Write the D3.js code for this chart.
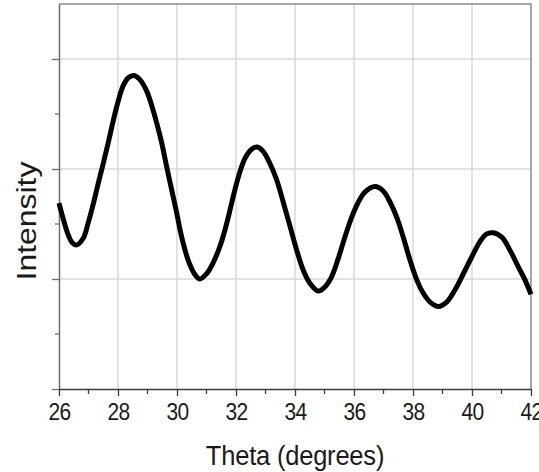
<!DOCTYPE html>
<html>
<head>
<meta charset="utf-8">
<script src="https://cdn.jsdelivr.net/npm/d3@7"></script>
<style>
	body { margin: 0; background: #fff; }
	svg { display: block; font-family: "Liberation Sans", Arial, sans-serif; }
</style>
</head>
<body>
<div id="chart"></div>
<script>
// values
const thetaDeg = [26.00, 26.15, 26.30, 26.45, 26.60, 26.82, 26.99, 27.16, 27.33, 27.50, 27.67, 27.84, 28.01, 28.18, 28.35, 28.54, 28.75, 28.97, 29.14, 29.31, 29.48, 29.65, 29.82, 29.99, 30.16, 30.38, 30.61, 30.78, 31.01, 31.23, 31.46, 31.63, 31.80, 31.97, 32.14, 32.31, 32.53, 32.72, 32.92, 33.15, 33.38, 33.60, 33.83, 34.06, 34.28, 34.51, 34.79, 35.02, 35.24, 35.47, 35.69, 35.92, 36.15, 36.37, 36.71, 36.99, 37.22, 37.45, 37.67, 37.90, 38.13, 38.35, 38.58, 38.86, 39.14, 39.42, 39.71, 39.99, 40.27, 40.50, 40.72, 41.01, 41.29, 41.57, 41.80, 42.00];
const intensity = [1.69, 1.54, 1.41, 1.33, 1.31, 1.37, 1.51, 1.68, 1.87, 2.05, 2.24, 2.44, 2.62, 2.76, 2.83, 2.85, 2.81, 2.71, 2.58, 2.42, 2.24, 2.02, 1.81, 1.60, 1.38, 1.17, 1.04, 1.00, 1.05, 1.15, 1.30, 1.45, 1.63, 1.82, 1.98, 2.10, 2.18, 2.20, 2.16, 2.05, 1.90, 1.70, 1.48, 1.26, 1.08, 0.96, 0.89, 0.93, 1.02, 1.19, 1.38, 1.56, 1.70, 1.79, 1.84, 1.80, 1.70, 1.56, 1.38, 1.17, 0.99, 0.87, 0.79, 0.75, 0.79, 0.90, 1.05, 1.20, 1.34, 1.41, 1.42, 1.38, 1.26, 1.11, 0.99, 0.86];
const xTicks = [26, 28, 30, 32, 34, 36, 38, 40, 42];
const xMinorTicks = [27, 29, 31, 33, 35, 37, 39, 41];
const yTicks = [0, 1, 2, 3];
const yMinorTicks = [0.5, 1.5, 2.5];
const xLabel = "Theta (degrees)";
const yLabel = "Intensity";

const w = 539;
const h = 472;
const margin = { top: 4, right: 8, bottom: 83, left: 59 };

const data = thetaDeg.map((t, i) => [t, intensity[i]]);

const xScale = d3.scaleLinear()
	.domain([26, 42])
	.range([margin.left, w - margin.right]);
const yScale = d3.scaleLinear()
	.domain([0, 3.5])
	.range([h - margin.bottom, margin.top]);

const svg = d3.select("#chart")
	.append("svg")
	.attr("width", w)
	.attr("height", h);

// grid
svg.append("g")
	.selectAll("line")
	.data(xTicks.slice(1, -1))
	.enter()
	.append("line")
	.attr("x1", d => xScale(d))
	.attr("x2", d => xScale(d))
	.attr("y1", yScale(0))
	.attr("y2", yScale(3.5))
	.attr("stroke", "#d9d9d9")
	.attr("stroke-width", 1.5);

svg.append("g")
	.selectAll("line")
	.data(yTicks.slice(1))
	.enter()
	.append("line")
	.attr("x1", xScale(26))
	.attr("x2", xScale(42))
	.attr("y1", d => yScale(d))
	.attr("y2", d => yScale(d))
	.attr("stroke", "#d9d9d9")
	.attr("stroke-width", 1.5);

// top and right frame
svg.append("path")
	.attr("d", "M" + xScale(26) + "," + yScale(3.5) + "H" + xScale(42) + "V" + yScale(0))
	.attr("fill", "none")
	.attr("stroke", "#8a8a8a")
	.attr("stroke-width", 1.5);

// left axis
const yAxis = d3.axisLeft(yScale).tickValues(yTicks).tickSize(7).tickFormat("").tickSizeOuter(0);
const gy = svg.append("g")
	.attr("transform", "translate(" + margin.left + ",0)")
	.call(yAxis);
gy.select(".domain").attr("stroke", "#6e6e6e").attr("stroke-width", 1.5);
gy.selectAll(".tick line").attr("stroke", "#6e6e6e").attr("stroke-width", 1.3);

gy.selectAll(".minor")
	.data(yMinorTicks)
	.enter()
	.append("line")
	.attr("class", "minor")
	.attr("x1", -4)
	.attr("x2", 0)
	.attr("y1", d => yScale(d))
	.attr("y2", d => yScale(d))
	.attr("stroke", "#6e6e6e")
	.attr("stroke-width", 1.3);

// bottom axis
const xAxis = d3.axisBottom(xScale).tickValues(xTicks).tickSize(7).tickSizeOuter(0);
const gx = svg.append("g")
	.attr("transform", "translate(0," + yScale(0) + ")")
	.call(xAxis);
gx.select(".domain").attr("stroke", "#3c3c3c").attr("stroke-width", 1.5);
gx.selectAll(".tick line").attr("stroke", "#3c3c3c").attr("stroke-width", 1.3);
gx.selectAll(".tick text")
	.attr("fill", "#1a1a1a")
	.attr("font-size", 21)
	.attr("letter-spacing", -0.6)
	.attr("dy", 0)
	.attr("y", 27.7)
	.attr("transform", "scale(1,1.12)");

gx.selectAll(".minor")
	.data(xMinorTicks)
	.enter()
	.append("line")
	.attr("class", "minor")
	.attr("x1", d => xScale(d))
	.attr("x2", d => xScale(d))
	.attr("y1", 0)
	.attr("y2", 5)
	.attr("stroke", "#3c3c3c")
	.attr("stroke-width", 1.3);

// the curve
const line = d3.line()
	.x(d => xScale(d[0]))
	.y(d => yScale(d[1]))
	.curve(d3.curveCatmullRom.alpha(0.5));

svg.append("path")
	.datum(data)
	.attr("d", line)
	.attr("fill", "none")
	.attr("stroke", "#000")
	.attr("stroke-width", 5)
	.attr("stroke-linejoin", "round");

// axis titles
svg.append("text")
	.attr("transform", "translate(" + ((xScale(26) + xScale(42)) / 2) + ",465) scale(1,1.09)")
	.attr("text-anchor", "middle")
	.attr("font-size", 25.5)
	.attr("letter-spacing", -0.2)
	.attr("fill", "#1a1a1a")
	.text(xLabel);

svg.append("text")
	.attr("transform", "translate(36,221) rotate(-90) scale(1.14,1)")
	.attr("text-anchor", "middle")
	.attr("font-size", 28)
	.attr("fill", "#1a1a1a")
	.text(yLabel);
</script>
</body>
</html>
